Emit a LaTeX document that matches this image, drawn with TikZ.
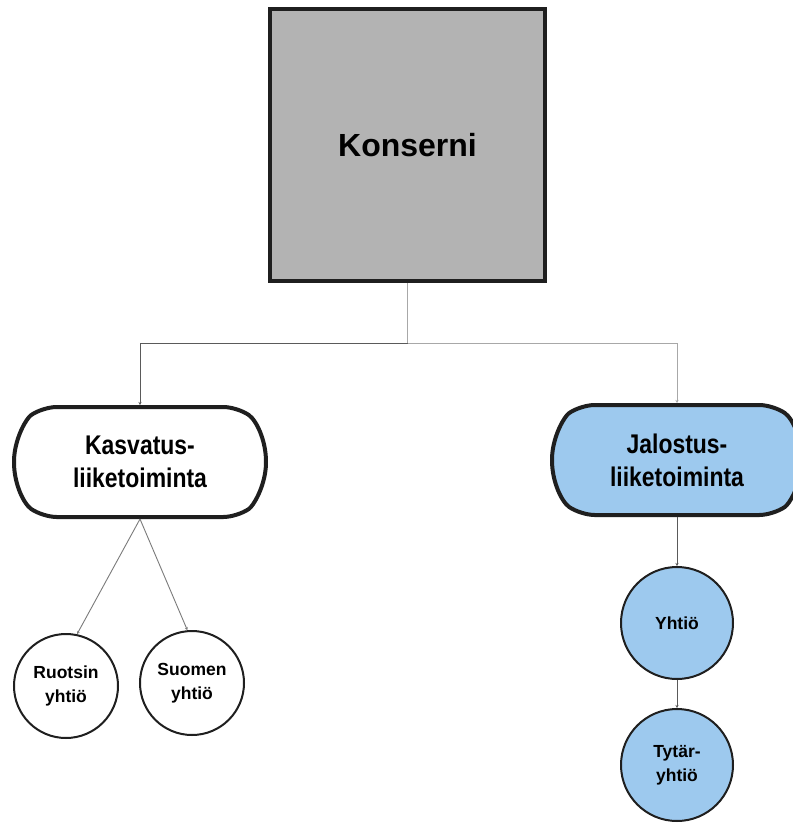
\documentclass[tikz,border=0pt]{standalone}
\usepackage{fontspec}
\setmainfont{Liberation Sans}
\newfontfamily\narrowbold[FakeStretch=0.85]{Liberation Sans Bold}
\usetikzlibrary{shapes.misc,arrows.meta}
\definecolor{boxgray}{HTML}{B3B3B3}
\definecolor{edge}{HTML}{1F1F1F}
\definecolor{paleblue}{HTML}{9DC9EE}
\definecolor{linkdark}{HTML}{5A5A5A}
\definecolor{linklight}{HTML}{A8A8A8}
\tikzset{
  rootbox/.style={draw=edge, line width=4pt, fill=boxgray, minimum width=275pt,
    minimum height=272pt, font=\bfseries\fontsize{32}{36}\selectfont, inner sep=0pt},
  branch/.style={draw=edge, line width=4pt, rounded rectangle, rounded rectangle arc length=110,
    rounded corners=14pt,
    minimum width=252pt, minimum height=110pt, align=center, inner sep=0pt,
    font=\narrowbold\fontsize{27}{33}\selectfont},
  unit/.style={draw=edge, line width=2pt, circle, align=center, inner sep=0pt,
    font=\bfseries\fontsize{17.5}{24}\selectfont},
  link/.style={line width=0.9pt, -{Stealth[length=3pt,width=3pt]}},
}
\begin{document}
\begin{tikzpicture}[x=1pt,y=-1pt]
  \useasboundingbox (0,0) rectangle (793,823);
  \fill[white] (0,0) rectangle (793,823);

  % parent company
  \node[rootbox] (kons) at (407.5,145) {Konserni};

  % business areas
  \node[branch, fill=white] (kas) at (140,462) {Kasvatus-\\liiketoiminta};
  \node[branch, fill=paleblue, minimum width=250pt] (jal) at (677,460) {Jalostus-\\liiketoiminta};

  % subsidiaries
  \node[unit, fill=white, minimum size=104pt] (ruo) at (66,686) {Ruotsin\\yhtiö};
  \node[unit, fill=white, minimum size=104pt] (suo) at (192,683) {Suomen\\yhtiö};
  \node[unit, fill=paleblue, minimum size=112pt] (yht) at (677,623) {Yhtiö};
  \node[unit, fill=paleblue, minimum size=112pt] (tyt) at (677,765) {Tytär-\\yhtiö};

  % connectors
  \draw[line width=1.6pt, linklight] (kons.south) -- ++(0,60) coordinate (split);
  \draw[link, linkdark] (split) -| (kas.north);
  \draw[link, linklight] (split) -| (jal.north);
  \draw[link, linkdark!80] (kas.south) -- (ruo.78);
  \draw[link, linkdark!80] (kas.south) -- (suo.95);
  \draw[link, linkdark] (jal.south) -- (yht.north);
  \draw[link, linkdark] (yht.south) -- (tyt.north);
\end{tikzpicture}
\end{document}
